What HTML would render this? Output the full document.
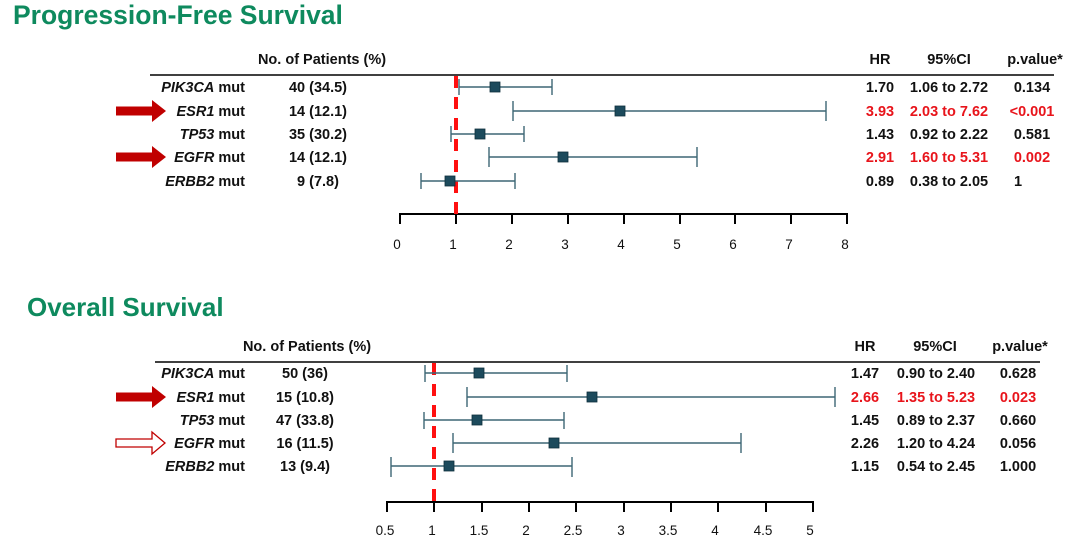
<!DOCTYPE html>
<html><head><meta charset="utf-8"><style>
body{margin:0;background:#fff;}
svg{display:block;font-family:"Liberation Sans",Arial,sans-serif;font-weight:bold;}
</style></head><body>
<svg width="1080" height="544" viewBox="0 0 1080 544">
<defs>
<g id="arr"><polygon points="0,-4.5 36,-4.5 36,-11 50,0 36,11 36,4.5 0,4.5" fill="#c00000"/></g>
</defs>
<g fill="#0e8a5e" font-size="26.5">
<text x="13" y="24">Progression-Free Survival</text>
<text x="27" y="316" font-size="26">Overall Survival</text>
</g>
<g font-size="14.5" fill="#111">
<text x="322" y="64" text-anchor="middle">No. of Patients (%)</text>
<text x="880" y="64" text-anchor="middle">HR</text>
<text x="949" y="64" text-anchor="middle">95%CI</text>
<text x="1035" y="64" text-anchor="middle">p.value*</text>
<text x="307" y="351" text-anchor="middle">No. of Patients (%)</text>
<text x="865" y="351" text-anchor="middle">HR</text>
<text x="935" y="351" text-anchor="middle">95%CI</text>
<text x="1020" y="351" text-anchor="middle">p.value*</text>
</g>
<line x1="150" y1="75" x2="1054" y2="75" stroke="#000" stroke-width="1.5"/>
<line x1="155" y1="362" x2="1040" y2="362" stroke="#000" stroke-width="1.5"/>
<g font-size="14.5" fill="#111">
<g text-anchor="end">
<text x="245" y="92"><tspan font-style="italic">PIK3CA</tspan> mut</text>
<text x="245" y="116"><tspan font-style="italic">ESR1</tspan> mut</text>
<text x="245" y="139"><tspan font-style="italic">TP53</tspan> mut</text>
<text x="245" y="162"><tspan font-style="italic">EGFR</tspan> mut</text>
<text x="245" y="186"><tspan font-style="italic">ERBB2</tspan> mut</text>
<text x="245" y="378"><tspan font-style="italic">PIK3CA</tspan> mut</text>
<text x="245" y="402"><tspan font-style="italic">ESR1</tspan> mut</text>
<text x="245" y="425"><tspan font-style="italic">TP53</tspan> mut</text>
<text x="245" y="448"><tspan font-style="italic">EGFR</tspan> mut</text>
<text x="245" y="471"><tspan font-style="italic">ERBB2</tspan> mut</text>
</g>
<g text-anchor="middle">
<text x="318" y="92">40 (34.5)</text>
<text x="318" y="116">14 (12.1)</text>
<text x="318" y="139">35 (30.2)</text>
<text x="318" y="162">14 (12.1)</text>
<text x="318" y="186">9 (7.8)</text>
<text x="305" y="378">50 (36)</text>
<text x="305" y="402">15 (10.8)</text>
<text x="305" y="425">47 (33.8)</text>
<text x="305" y="448">16 (11.5)</text>
<text x="305" y="471">13 (9.4)</text>
<text x="880" y="92">1.70</text><text x="949" y="92">1.06 to 2.72</text><text x="1032" y="92">0.134</text>
<g fill="#e8141b"><text x="880" y="116">3.93</text><text x="949" y="116">2.03 to 7.62</text><text x="1032" y="116">&lt;0.001</text></g>
<text x="880" y="139">1.43</text><text x="949" y="139">0.92 to 2.22</text><text x="1032" y="139">0.581</text>
<g fill="#e8141b"><text x="880" y="162">2.91</text><text x="949" y="162">1.60 to 5.31</text><text x="1032" y="162">0.002</text></g>
<text x="880" y="186">0.89</text><text x="949" y="186">0.38 to 2.05</text><text x="1018" y="186">1</text>
<text x="865" y="378">1.47</text><text x="936" y="378">0.90 to 2.40</text><text x="1018" y="378">0.628</text>
<g fill="#e8141b"><text x="865" y="402">2.66</text><text x="936" y="402">1.35 to 5.23</text><text x="1018" y="402">0.023</text></g>
<text x="865" y="425">1.45</text><text x="936" y="425">0.89 to 2.37</text><text x="1018" y="425">0.660</text>
<text x="865" y="448">2.26</text><text x="936" y="448">1.20 to 4.24</text><text x="1018" y="448">0.056</text>
<text x="865" y="471">1.15</text><text x="936" y="471">0.54 to 2.45</text><text x="1018" y="471">1.000</text>
</g>
</g>
<use href="#arr" x="116" y="111"/>
<use href="#arr" x="116" y="157"/>
<use href="#arr" x="116" y="397"/>
<polygon points="116,439 152,439 152,432 165,443 152,454 152,447 116,447" fill="#fff" stroke="#c00000" stroke-width="1.3"/>
<g stroke="#000" stroke-width="2">
<line x1="400" y1="214" x2="848" y2="214"/>
<line x1="400" y1="213" x2="400" y2="224"/><line x1="456" y1="213" x2="456" y2="224"/><line x1="512" y1="213" x2="512" y2="224"/><line x1="568" y1="213" x2="568" y2="224"/><line x1="624" y1="213" x2="624" y2="224"/><line x1="680" y1="213" x2="680" y2="224"/><line x1="735" y1="213" x2="735" y2="224"/><line x1="791" y1="213" x2="791" y2="224"/><line x1="847" y1="213" x2="847" y2="224"/>
</g>
<g font-size="13.5" font-weight="normal" fill="#111" text-anchor="middle">
<text x="397" y="249">0</text><text x="453" y="249">1</text><text x="509" y="249">2</text><text x="565" y="249">3</text><text x="621" y="249">4</text><text x="677" y="249">5</text><text x="733" y="249">6</text><text x="789" y="249">7</text><text x="845" y="249">8</text>
</g>
<g stroke="#000" stroke-width="2">
<line x1="387" y1="502" x2="814" y2="502"/>
<line x1="387" y1="501" x2="387" y2="512"/><line x1="434" y1="501" x2="434" y2="512"/><line x1="482" y1="501" x2="482" y2="512"/><line x1="529" y1="501" x2="529" y2="512"/><line x1="576" y1="501" x2="576" y2="512"/><line x1="624" y1="501" x2="624" y2="512"/><line x1="671" y1="501" x2="671" y2="512"/><line x1="718" y1="501" x2="718" y2="512"/><line x1="766" y1="501" x2="766" y2="512"/><line x1="813" y1="501" x2="813" y2="512"/>
</g>
<g font-size="13.5" font-weight="normal" fill="#111" text-anchor="middle">
<text x="385" y="535">0.5</text><text x="432" y="535">1</text><text x="479" y="535">1.5</text><text x="526" y="535">2</text><text x="573" y="535">2.5</text><text x="621" y="535">3</text><text x="668" y="535">3.5</text><text x="715" y="535">4</text><text x="763" y="535">4.5</text><text x="810" y="535">5</text>
</g>
<line x1="456" y1="76" x2="456" y2="214" stroke="#ff1010" stroke-width="4" stroke-dasharray="12,9"/>
<line x1="434" y1="363" x2="434" y2="502" stroke="#ff1010" stroke-width="4" stroke-dasharray="12,9"/>
<g stroke="#3d6675" stroke-width="1.4">
<line x1="459" y1="87" x2="552" y2="87"/><line x1="459" y1="79" x2="459" y2="95"/><line x1="552" y1="79" x2="552" y2="95"/>
<line x1="513" y1="111" x2="826" y2="111"/><line x1="513" y1="101" x2="513" y2="121"/><line x1="826" y1="101" x2="826" y2="121"/>
<line x1="451" y1="134" x2="524" y2="134"/><line x1="451" y1="126" x2="451" y2="142"/><line x1="524" y1="126" x2="524" y2="142"/>
<line x1="489" y1="157" x2="697" y2="157"/><line x1="489" y1="147" x2="489" y2="167"/><line x1="697" y1="147" x2="697" y2="167"/>
<line x1="421" y1="181" x2="515" y2="181"/><line x1="421" y1="173" x2="421" y2="189"/><line x1="515" y1="173" x2="515" y2="189"/>
<line x1="425" y1="373" x2="567" y2="373"/><line x1="425" y1="365" x2="425" y2="382"/><line x1="567" y1="365" x2="567" y2="382"/>
<line x1="467" y1="397" x2="835" y2="397"/><line x1="467" y1="387" x2="467" y2="407"/><line x1="835" y1="387" x2="835" y2="407"/>
<line x1="424" y1="420" x2="564" y2="420"/><line x1="424" y1="412" x2="424" y2="429"/><line x1="564" y1="412" x2="564" y2="429"/>
<line x1="453" y1="443" x2="741" y2="443"/><line x1="453" y1="433" x2="453" y2="453"/><line x1="741" y1="433" x2="741" y2="453"/>
<line x1="391" y1="466" x2="572" y2="466"/><line x1="391" y1="457" x2="391" y2="477"/><line x1="572" y1="457" x2="572" y2="477"/>
</g>
<g fill="#1c4a5c" stroke="#0f2f3c" stroke-width="0.8">
<rect x="490" y="82" width="10" height="10"/>
<rect x="615" y="106" width="10" height="10"/>
<rect x="475" y="129" width="10" height="10"/>
<rect x="558" y="152" width="10" height="10"/>
<rect x="445" y="176" width="10" height="10"/>
<rect x="474" y="368" width="10" height="10"/>
<rect x="587" y="392" width="10" height="10"/>
<rect x="472" y="415" width="10" height="10"/>
<rect x="549" y="438" width="10" height="10"/>
<rect x="444" y="461" width="10" height="10"/>
</g>
</svg>
</body></html>
